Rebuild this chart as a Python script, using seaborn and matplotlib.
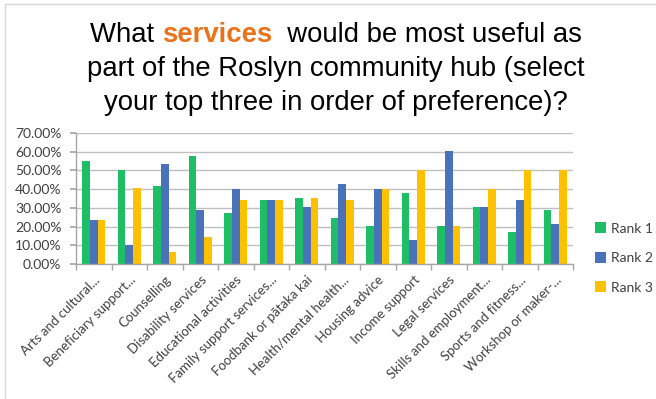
import matplotlib
matplotlib.use("Agg")
import matplotlib.pyplot as plt
import seaborn as sns
import pandas as pd
import numpy as np
from matplotlib.patches import Patch
from matplotlib.lines import Line2D
from matplotlib.ticker import PercentFormatter, FixedLocator

categories = ["Arts and cultural...", "Beneficiary support...", "Counselling",
              "Disability services", "Educational activities", "Family support services...",
              "Foodbank or pātaka kai", "Health/mental health...", "Housing advice",
              "Income support", "Legal services", "Skills and employment...",
              "Sports and fitness...", "Workshop or maker-..."]
rank1 = [55.3, 50.4, 41.5, 57.8, 27.0, 34.2, 35.2, 24.7, 20.1, 37.9, 20.1, 30.2, 17.1, 29.0]
rank2 = [23.3, 10.1, 53.6, 29.0, 40.2, 34.2, 30.2, 42.9, 40.2, 12.6, 60.3, 30.2, 34.2, 21.4]
rank3 = [23.3, 40.4, 6.4, 14.6, 34.2, 34.2, 35.2, 34.2, 40.2, 50.4, 20.1, 40.2, 50.4, 50.4]
series_names = ["Rank 1", "Rank 2", "Rank 3"]
colors = ["#1DBE66", "#4A72B8", "#FFC000"]

df = pd.DataFrame({
    "category": categories * 3,
    "value": rank1 + rank2 + rank3,
    "series": sum([[s] * len(categories) for s in series_names], []),
})

sns.set_theme(style="white")
plt.rcParams["font.family"] = ["Liberation Sans", "DejaVu Sans"]
lab_font = ["Lato", "DejaVu Sans"]

fig = plt.figure(figsize=(6.56, 3.99), dpi=100)
ax = fig.add_axes([76 / 656, 1 - 264 / 399, (573 - 76) / 656, (264 - 133) / 399])

sns.barplot(data=df, x="category", y="value", hue="series", palette=colors,
            width=0.64, ax=ax, legend=False, saturation=1, order=categories,
            hue_order=series_names, linewidth=0)

ax.set_ylim(0, 70)
ax.set_xlim(-0.5, len(categories) - 0.5)
ax.set_yticks(np.arange(0, 71, 10))
ax.yaxis.set_major_formatter(PercentFormatter(decimals=2))
ax.grid(axis="y", color="#BFBFBF", linewidth=1.0)
ax.set_axisbelow(True)
ax.set_xlabel("")
ax.set_ylabel("")
for s in ["top", "right"]:
    ax.spines[s].set_visible(False)
for s in ["left", "bottom"]:
    ax.spines[s].set_color("#A6A6A6")
    ax.spines[s].set_linewidth(1.0)

txtcol = "#404040"
ax.tick_params(axis="y", which="major", left=True, length=4, color="#A6A6A6",
               labelsize=10, labelcolor=txtcol, pad=6.5)
for t in ax.get_yticklabels():
    t.set_family(lab_font)
ax.set_xticks(range(len(categories)))
ax.set_xticklabels(categories, rotation=45, ha="right", rotation_mode="anchor",
                   fontsize=9.5, color=txtcol, family=lab_font)
ax.tick_params(axis="x", which="major", length=0, pad=7)
ax.xaxis.set_minor_locator(FixedLocator(np.arange(-0.5, len(categories), 1.0)))
ax.tick_params(axis="x", which="minor", bottom=True, length=4, color="#A6A6A6")

# legend
handles = [Patch(facecolor=c, edgecolor="none") for c in colors]
fig.legend(handles, series_names, loc="center left", bbox_to_anchor=(582 / 656, 1 - 258 / 399),
           frameon=False, prop={"family": lab_font, "size": 10}, labelcolor=txtcol,
           handlelength=0.8, handleheight=0.8, handletextpad=0.4, labelspacing=1.25)

# title with mixed colors
fs = 19.8
renderer = fig.canvas.get_renderer()
line1 = [("What ", "#000000", "normal"), ("services", "#E8731A", "bold"),
         ("  would be most useful as", "#000000", "normal")]
widths = []
for s, c, w in line1:
    t = fig.text(0, 0, s, fontsize=fs, fontweight=w)
    bb = t.get_window_extent(renderer)
    widths.append(bb.width)
    t.remove()
total = sum(widths)
cx = 336
x = cx - total / 2
y1 = 399 - 42
for (s, c, w), wd in zip(line1, widths):
    fig.text(x / 656, y1 / 399, s, fontsize=fs, fontweight=w, color=c, va="baseline", ha="left")
    x += wd
fig.text(cx / 656, (399 - 76) / 399, "part of the Roslyn community hub (select",
         fontsize=fs, ha="center", va="baseline", color="#000000")
fig.text(cx / 656, (399 - 110) / 399, "your top three in order of preference)?",
         fontsize=fs, ha="center", va="baseline", color="#000000")

# border (top and left only)
fig.add_artist(Line2D([5 / 656, 5 / 656, 1.0], [0.0, 1 - 4 / 399, 1 - 4 / 399],
                      transform=fig.transFigure, color="#D9D9D9", linewidth=1.0))

fig.savefig("out.png", dpi=100)
